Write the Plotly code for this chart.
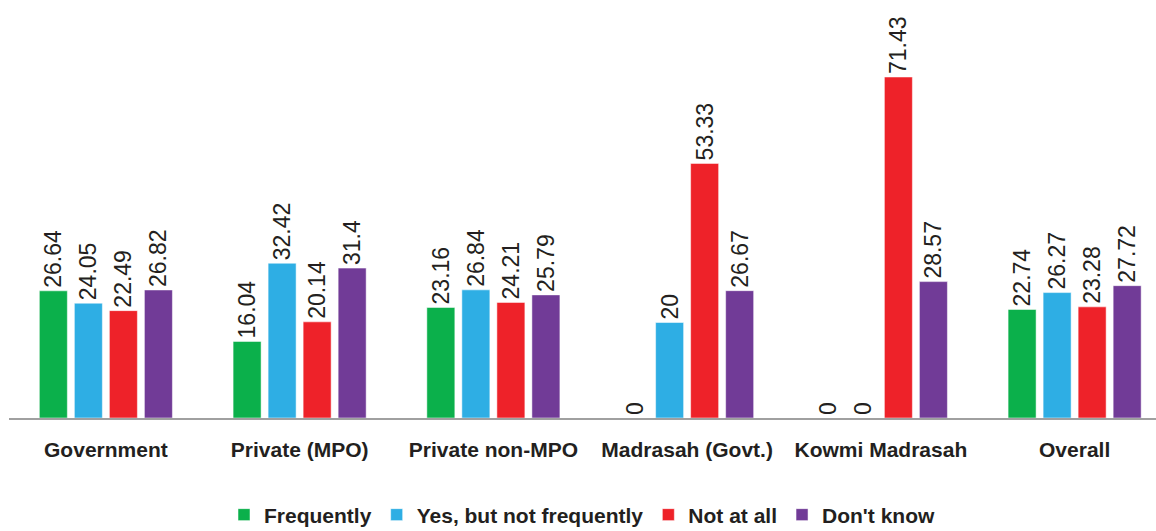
import plotly.graph_objects as go

# Survey responses by school type (percent)
categories = ["Government", "Private (MPO)", "Private non-MPO",
              "Madrasah (Govt.)", "Kowmi Madrasah", "Overall"]
frequently = [26.64, 16.04, 23.16, 0, 0, 22.74]
yes_not_frequently = [24.05, 32.42, 26.84, 20, 0, 26.27]
not_at_all = [22.49, 20.14, 24.21, 53.33, 71.43, 23.28]
dont_know = [26.82, 31.4, 25.79, 26.67, 28.57, 27.72]

series = [
    ("Frequently", frequently, "#0bb04b"),
    ("Yes, but not frequently", yes_not_frequently, "#2eaee4"),
    ("Not at all", not_at_all, "#ee2229"),
    ("Don't know", dont_know, "#713b97"),
]

TEXT = "#231f20"
FONT = "Liberation Sans, Arial, sans-serif"

fig = go.Figure()
for name, vals, color in series:
    fig.add_trace(go.Bar(
        name=name,
        x=categories,
        y=vals,
        marker=dict(color=color, line=dict(color="rgba(255,255,255,0.5)", width=1)),
        text=[str(v) for v in vals],
        textposition="outside",
        textangle=-90,
        textfont=dict(family=FONT, size=23, color=TEXT),
        constraintext="none",
        cliponaxis=False,
    ))

fig.update_layout(
    width=1156,
    height=531,
    barmode="group",
    bargap=0.277,
    bargroupgap=0.2,
    margin=dict(l=9, r=0, t=0, b=113, autoexpand=False),
    paper_bgcolor="white",
    plot_bgcolor="white",
    font=dict(family=FONT, color=TEXT),
    showlegend=True,
    legend=dict(
        orientation="h",
        x=0.5, xanchor="center",
        y=-0.232, yanchor="middle",
        font=dict(family=FONT, size=21, color=TEXT, weight="bold"),
        bgcolor="rgba(0,0,0,0)",
        traceorder="normal",
    ),
    xaxis=dict(
        range=[-0.5, 5.42],
        automargin=False,
        showline=True,
        linecolor="#a0a0a0",
        linewidth=2,
        showgrid=False,
        ticks="",
        ticklabelstandoff=12,
        tickfont=dict(family=FONT, size=21, color=TEXT, weight="bold"),
    ),
    yaxis=dict(
        range=[0, 87.56],
        visible=False,
        showgrid=False,
        zeroline=False,
    ),
)

fig.write_html("out.html")
